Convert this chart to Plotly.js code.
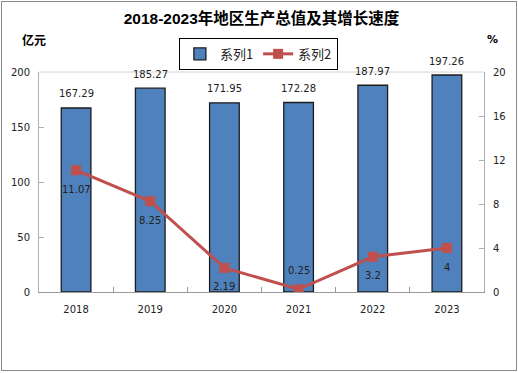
<!DOCTYPE html>
<html>
<head>
<meta charset="utf-8">
<script src="https://cdn.plot.ly/plotly-3.0.1.min.js"></script>
<style>
html,body{margin:0;padding:0;background:#fff;}
#wrap{position:relative;width:518px;height:373px;}
#chart{position:absolute;left:0;top:0;width:518px;height:373px;}
#frame{position:absolute;left:1px;top:1px;width:514px;height:368px;border:1px solid #8c8c8c;pointer-events:none;}
</style>
</head>
<body>
<div id="wrap"><div id="chart"></div><div id="frame"></div></div>
<script>
const years = ['2018', '2019', '2020', '2021', '2022', '2023'];
const gdp = [167.29, 185.27, 171.95, 172.28, 187.97, 197.26];
const growth = [11.07, 8.25, 2.19, 0.25, 3.2, 4];
const seriesNames = ['系列1', '系列2'];
const titleText = '2018-2023年地区生产总值及其增长速度';
const leftUnit = '亿元';
const rightUnit = '%';

const numFont = {family: 'DejaVu Sans, Verdana, sans-serif', size: 10, color: '#222'};

const traces = [
  {
    type: 'bar', name: seriesNames[0], x: years, y: gdp,
    marker: {color: '#4F81BD', line: {color: '#1c1c1c', width: 1.3}},
    hoverinfo: 'skip'
  },
  {
    type: 'scatter', mode: 'lines+markers', name: seriesNames[1], x: years, y: growth, yaxis: 'y2',
    line: {color: '#C0504D', width: 3},
    marker: {symbol: 'square', size: 10, color: '#C0504D'},
    hoverinfo: 'skip'
  }
];

const annotations = [];
years.forEach((yr, i) => {
  annotations.push({x: i, y: gdp[i], xref: 'x', yref: 'y', text: String(gdp[i]),
    showarrow: false, yanchor: 'middle', yshift: 14, font: numFont});
  const above = growth[i] < 1;
  annotations.push({x: i, y: growth[i], xref: 'x', yref: 'y2', text: String(growth[i]),
    showarrow: false, yanchor: 'middle', yshift: above ? 19 : -19, font: numFont});
});
annotations.push({xref: 'paper', yref: 'paper', x: -0.012, y: 1.15, text: '<b>' + leftUnit + '</b>',
  showarrow: false, xanchor: 'center', yanchor: 'middle',
  font: {family: 'Noto Sans CJK SC, sans-serif', size: 12, color: '#000'}});
annotations.push({xref: 'paper', yref: 'paper', x: 1.02, y: 1.15, text: '<b>' + rightUnit + '</b>',
  showarrow: false, xanchor: 'center', yanchor: 'middle',
  font: {family: 'DejaVu Sans, sans-serif', size: 11, color: '#000'}});

const layout = {
  width: 518, height: 373,
  margin: {l: 39, r: 34, t: 72, b: 81},
  paper_bgcolor: '#fff', plot_bgcolor: '#fff',
  showlegend: true,
  title: {text: '<b>' + titleText + '</b>', x: 0.5, xanchor: 'center', y: 0.951, yanchor: 'middle',
    xref: 'paper',
    font: {family: 'Liberation Sans, Noto Sans CJK SC, sans-serif', size: 15.5, color: '#000'}},
  bargap: 0.6,
  xaxis: {type: 'category', range: [-0.5, 5.5], autorange: false, showline: true, linecolor: '#9a9a9a', linewidth: 1,
    ticks: 'inside', tickson: 'boundaries', ticklen: 5, tickcolor: '#9a9a9a',
    showgrid: false, zeroline: false, tickfont: numFont, ticklabelstandoff: 8, fixedrange: true},
  yaxis: {range: [0, 200], autorange: false, dtick: 50, showline: true, linecolor: '#b0b0b0', linewidth: 1,
    ticks: 'inside', ticklen: 5, tickcolor: '#b0b0b0', showgrid: false, zeroline: false,
    tickfont: numFont, ticklabelstandoff: 6},
  yaxis2: {range: [0, 20], autorange: false, dtick: 4, overlaying: 'y', side: 'right', showline: true,
    linecolor: '#b0b0b0', linewidth: 1, ticks: 'inside', ticklen: 5, tickcolor: '#b0b0b0',
    showgrid: false, zeroline: false, tickfont: numFont, ticklabelstandoff: 6},
  legend: {orientation: 'h', x: 0.493, xanchor: 'center', y: 1.155, yanchor: 'top',
    bordercolor: '#000', borderwidth: 1, bgcolor: '#fff',
    font: {family: 'Noto Sans CJK SC, sans-serif', size: 13, color: '#222'},
    itemwidth: 30, tracegroupgap: 0},
  shapes: [{type: 'line', xref: 'paper', yref: 'paper', x0: 0, x1: 1, y0: 1, y1: 1,
    line: {color: '#d4d4d4', width: 1}}],
  annotations: annotations
};

Plotly.newPlot('chart', traces, layout, {displayModeBar: false, staticPlot: true});
</script>
</body>
</html>
